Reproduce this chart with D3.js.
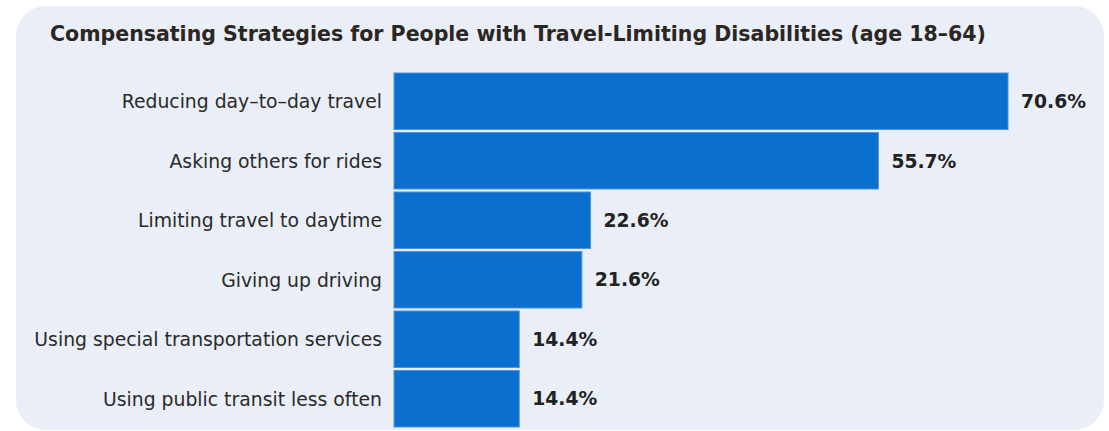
<!DOCTYPE html>
<html><head><meta charset="utf-8">
<script src="https://cdn.jsdelivr.net/npm/d3@7"></script>
<style>body{margin:0;background:#fff}svg{display:block}</style>
</head><body>
<script>
const categories = ["Reducing day–to–day travel","Asking others for rides","Limiting travel to daytime","Giving up driving","Using special transportation services","Using public transit less often"];
const values = [70.6, 55.7, 22.6, 21.6, 14.4, 14.4];
const valueLabels = ["70.6%","55.7%","22.6%","21.6%","14.4%","14.4%"];
const title = "Compensating Strategies for People with Travel-Limiting Disabilities (age 18–64)";

const W = 1109, H = 431;
const svg = d3.select("body").append("svg").attr("width", W).attr("height", H);
svg.append("rect").attr("x",16).attr("y",6).attr("width",1088).attr("height",424).attr("rx",30).attr("fill","#e9eef7");

const t = svg.append("text").attr("x",50).attr("y",41).text(title)
  .attr("font-family","DejaVu Sans").attr("font-weight",700).attr("font-size",18).attr("fill","#2b2622");
const tw = t.node().getComputedTextLength();
t.attr("font-size", 18 * 937 / tw);

const x = d3.scaleLinear().domain([0, 70.6]).range([394, 1008]);
const y = d3.scaleBand().domain(categories).range([73, 427]).paddingInner(0.05).paddingOuter(0.0);

const g = svg.append("g");
g.selectAll("rect.bar").data(values).join("rect").attr("class","bar")
  .attr("x", x(0)).attr("y",(d,i)=>y(categories[i]))
  .attr("width", d=>x(d)-x(0)).attr("height", y.bandwidth())
  .attr("fill","#0a6fcf").attr("stroke","#4e95dc").attr("stroke-width",1);

const vals = g.selectAll("text.val").data(values).join("text").attr("class","val")
  .attr("x", d=>x(d)+13).attr("y",(d,i)=>y(categories[i])+y.bandwidth()/2)
  .attr("dy","0.36em").text((d,i)=>valueLabels[i])
  .attr("font-family","DejaVu Sans").attr("font-weight",700).attr("font-size",17).attr("fill","#222");
const vw = vals.node().getComputedTextLength();
vals.attr("font-size", 17 * 65 / vw);

const axis = d3.axisLeft(y).tickSize(0).tickPadding(12);
const ag = svg.append("g").attr("transform",`translate(${x(0)},0)`).call(axis);
ag.select(".domain").remove();
const lab = ag.selectAll("text").attr("font-family","DejaVu Sans").attr("font-size",17).attr("fill","#2a2a2a").attr("dy","0.36em");
const lw = lab.filter(d=>d===categories[4]).node().getComputedTextLength();
lab.attr("font-size", 17 * 348 / lw);
</script>
</body></html>
